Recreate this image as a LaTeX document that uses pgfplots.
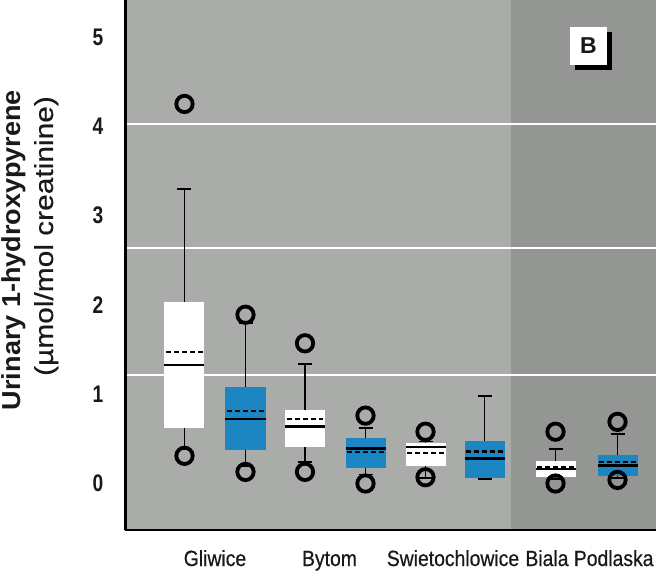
\documentclass[border=0pt]{standalone}
\usepackage{pgfplots}
\pgfplotsset{compat=1.18}
\usepgfplotslibrary{statistics}
\usepackage{fontspec}
\setmainfont{Liberation Sans}
\newfontfamily\labfont[FakeStretch=0.88, FakeBold=0.6]{Liberation Sans}
\newfontfamily\numfont[FakeStretch=0.80]{Liberation Sans}
\newfontfamily\ttlfont[FakeStretch=1.04]{Liberation Sans}
\newfontfamily\subfont[FakeStretch=1.15, FakeBold=0.4]{Liberation Sans}
\definecolor{bglight}{RGB}{170,172,169}
\definecolor{bgdark}{RGB}{148,150,147}
\definecolor{boxblue}{RGB}{28,134,194}

\pgfplotsset{
  bx/.style={
    boxplot/draw direction=y,
    boxplot/box extend=40,
    boxplot/whisker extend=14,
    boxplot/every box/.style={draw=none, fill=#1},
    boxplot/every whisker/.style={black, line width=1.8pt},
    boxplot/every median/.style={black, line width=2.4pt},
    boxplot/draw/average/.code={
      \draw[black, line width=2.4pt, dash pattern=on 5pt off 3pt]
        (boxplot box cs:\pgfplotsboxplotvalue{average},0.04) --
        (boxplot box cs:\pgfplotsboxplotvalue{average},0.96);
    },
  },
}

\begin{document}
\begin{tikzpicture}
\begin{axis}[
    name=ax,
    scale only axis,
    width=530.5pt, height=530pt,
    xmin=0, xmax=530.5,
    ymin=-0.5207, ymax=5.414,
    axis x line*=bottom, axis y line*=left,
    axis line style={black, line width=2.2pt},
    axis on top,
    axis background/.style={fill=bglight},
    major tick length=0pt,
    xtick={89.5,204,327.5,464},
    xticklabels={Gliwice,Bytom,Swietochlowice,Biala Podlaska},
    xticklabel style={font=\labfont\fontsize{22}{24}\selectfont, anchor=base, yshift=-36pt, text=black!90},
    ytick={0,1,2,3,4,5},
    yticklabels={0,1,2,3,4,5},
    yticklabel style={font=\numfont\bfseries\fontsize{24}{25}\selectfont, anchor=east, inner sep=0pt, xshift=-22pt, text=black!90},
    clip=false,
]

% darker band on the right
\fill[bgdark] (axis cs:385,-0.5207) rectangle (axis cs:530.5,5.414);
% white rules
\draw[white, line width=2pt] (axis cs:0,4.026) -- (axis cs:530.5,4.026);
\draw[white, line width=2pt] (axis cs:0,2.637) -- (axis cs:530.5,2.637);
\draw[white, line width=2pt] (axis cs:0,1.215) -- (axis cs:530.5,1.215);

% Gliwice
\addplot[bx=white, boxplot prepared={draw position=59,
  lower whisker=0.38, lower quartile=0.62, median=1.33,
  upper quartile=2.03, upper whisker=3.30, average=1.47}] coordinates {};
\addplot[bx=boxblue, boxplot prepared={draw position=120,
  lower whisker=0.20, lower quartile=0.38, median=0.72,
  upper quartile=1.08, upper whisker=1.80, average=0.81}] coordinates {};
% Bytom
\addplot[bx=white, boxplot prepared={draw position=179.5,
  lower whisker=0.24, lower quartile=0.41, median=0.64,
  upper quartile=0.82, upper whisker=1.34, average=0.72}] coordinates {};
\addplot[bx=boxblue, boxplot prepared={draw position=240,
  lower whisker=0.10, lower quartile=0.17, median=0.39,
  upper quartile=0.51, upper whisker=0.62, average=0.35}] coordinates {};
% Swietochlowice
\addplot[bx=white, boxplot prepared={draw position=300,
  lower whisker=0.06, lower quartile=0.20, median=0.41,
  upper quartile=0.45, upper whisker=0.47, average=0.34}] coordinates {};
\addplot[bx=boxblue, boxplot prepared={draw position=359,
  lower whisker=0.05, lower quartile=0.06, median=0.28,
  upper quartile=0.48, upper whisker=0.98, average=0.36}] coordinates {};
% Biala Podlaska
\addplot[bx=white, boxplot prepared={draw position=430,
  lower whisker=0.05, lower quartile=0.07, median=0.16,
  upper quartile=0.25, upper whisker=0.39, average=0.18}] coordinates {};
\addplot[bx=boxblue, boxplot prepared={draw position=492,
  lower whisker=0.06, lower quartile=0.08, median=0.20,
  upper quartile=0.32, upper whisker=0.55, average=0.24}] coordinates {};

% outlying values
\addplot[only marks, mark=o, mark size=8.2pt, mark options={black, line width=3.8pt}]
coordinates {
  (59,4.25) (59,0.31)
  (120,1.89) (120,0.13)
  (179.5,1.57) (179.5,0.13)
  (240,0.76) (240,0.0)
  (300,0.58) (300,0.07)
  (430,0.58) (430,0.0)
  (492,0.69) (492,0.04)
};

% panel letter
\node[fill=black, minimum width=37pt, minimum height=38pt, inner sep=0pt]
  at ([shift={(5pt,-5pt)}]axis cs:463,4.90) {};
\node[fill=white, minimum width=37pt, minimum height=38pt, inner sep=0pt,
  font=\bfseries\fontsize{23}{24}\selectfont, text=black!90]
  at (axis cs:463,4.90) {B};
\end{axis}

\node[rotate=90, anchor=base, font=\ttlfont\bfseries\fontsize{26}{27}\selectfont, text=black!90]
  at ([shift={(-104.8pt,280pt)}]ax.south west) {Urinary 1-hydroxypyrene};
\node[rotate=90, anchor=base, font=\subfont\fontsize{26}{27}\selectfont, text=black!90]
  at ([shift={(-72.5pt,294pt)}]ax.south west) {(µmol/mol creatinine)};

\pgfresetboundingbox
\path[use as bounding box] ([shift={(-125.5pt,-41pt)}]ax.south west) rectangle (ax.north east);
\end{tikzpicture}
\end{document}
